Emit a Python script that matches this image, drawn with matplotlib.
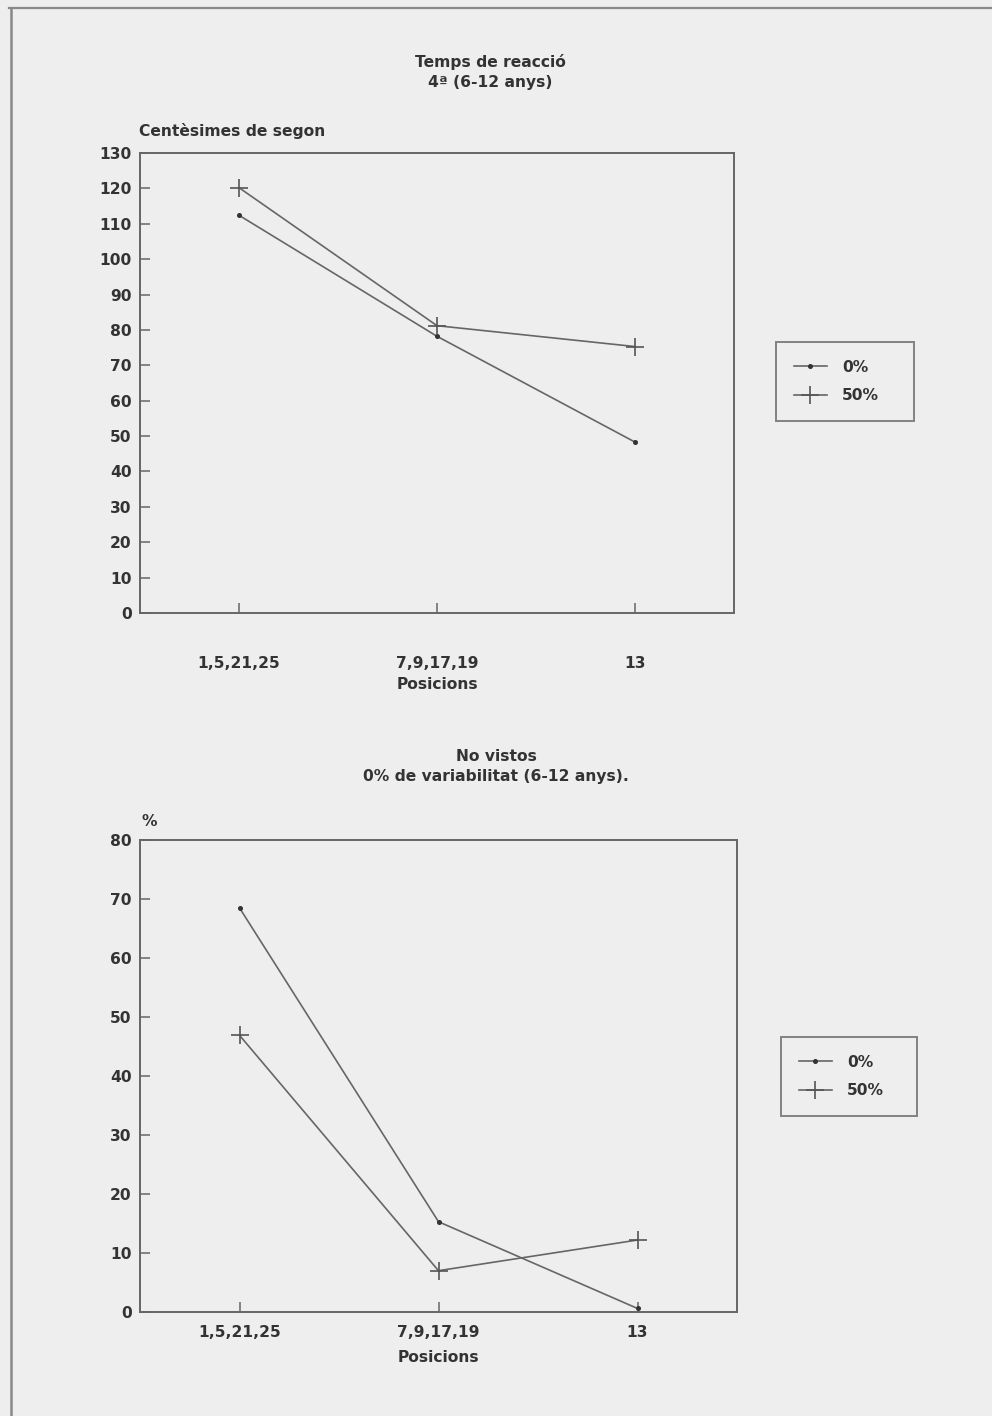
import numpy as np
import matplotlib
matplotlib.use("Agg")
import matplotlib.pyplot as plt
from matplotlib.lines import Line2D

# positions on the x axis
positions = ['1,5,21,25', '7,9,17,19', '13']
series_labels = ['0%', '50%']

# Temps de reaccio (centesimes de segon)
rt_0 = [112.4, 78.2, 48.3]
rt_50 = [120.2, 81.2, 75.3]

# No vistos (%)
nv_0 = [68.5, 15.3, 0.6]
nv_50 = [46.9, 7.0, 12.2]

INK = '#333333'
LINE = '#666666'
BG = '#eeeeee'
FS = 11.2

plt.rcParams['font.family'] = ['DejaVu Sans']
plt.rcParams['font.weight'] = 'bold'

fig = plt.figure(figsize=(9.92, 14.16), dpi=100)
fig.set_facecolor(BG)

W, H = 992.0, 1416.0


def fx(px):
    return px / W


def fy(py):
    return 1 - py / H


def style_axes(ax, ymax, ystep, xpad, labelpad):
    ax.set_facecolor('none')
    x = np.arange(len(positions))
    ax.set_xlim(-0.5, 2.5)
    ax.set_ylim(0, ymax)
    ax.set_xticks(x)
    ax.set_xticklabels(positions)
    ax.set_yticks(np.arange(0, ymax + 1, ystep))
    ax.tick_params(direction='in', length=7, width=1.1, colors=LINE,
                   labelcolor=INK, labelsize=FS, pad=6)
    ax.tick_params(axis='x', pad=xpad)
    for sp in ax.spines.values():
        sp.set_color(LINE)
        sp.set_linewidth(1.4)
    ax.set_xlabel('Posicions', fontsize=FS, fontweight='bold', color=INK,
                  labelpad=labelpad)


def plot_series(ax, y0, y50):
    x = np.arange(len(positions))
    ax.plot(x, y0, color=LINE, lw=1.2, marker='o', ms=2.6, mfc='#333333',
            mec='#333333', label=series_labels[0])
    ax.plot(x, y50, color=LINE, lw=1.2, marker='+', ms=13, mew=1.2,
            mec='#555555', label=series_labels[1])


def add_legend(ax, left, top, right):
    leg = ax.legend(loc='upper left',
                    bbox_to_anchor=(fx(left), fy(top) - 0.01, fx(right) - fx(left), 0.01),
                    bbox_transform=fig.transFigure, mode='expand',
                    frameon=True, fancybox=False,
                    fontsize=FS, handlelength=2.1, handletextpad=1.0,
                    borderpad=1.15, labelspacing=0.85, numpoints=1,
                    borderaxespad=0)
    fr = leg.get_frame()
    fr.set_edgecolor(LINE)
    fr.set_linewidth(1.4)
    fr.set_facecolor('none')
    for t in leg.get_texts():
        t.set_color(INK)
        t.set_fontweight('bold')


# top chart
ax1 = fig.add_axes([fx(140), fy(613), fx(734) - fx(140), fy(153) - fy(613)])
plot_series(ax1, rt_0, rt_50)
style_axes(ax1, 130, 10, xpad=31, labelpad=4)
add_legend(ax1, 776, 342, 914)
fig.text(fx(490), fy(62), 'Temps de reacció', ha='center', va='center',
         fontsize=FS, fontweight='bold', color=INK)
fig.text(fx(490), fy(83), '4ª (6-12 anys)', ha='center', va='center',
         fontsize=FS, fontweight='bold', color=INK)
fig.text(fx(139), fy(131), 'Centèsimes de segon', ha='left', va='center',
         fontsize=FS, fontweight='bold', color=INK)

# bottom chart
ax2 = fig.add_axes([fx(140), fy(1312), fx(737) - fx(140), fy(840) - fy(1312)])
plot_series(ax2, nv_0, nv_50)
style_axes(ax2, 80, 10, xpad=9.5, labelpad=7)
add_legend(ax2, 781, 1037, 917)
fig.text(fx(496), fy(757), 'No vistos', ha='center', va='center',
         fontsize=FS, fontweight='bold', color=INK)
fig.text(fx(496), fy(777), '0% de variabilitat (6-12 anys).', ha='center', va='center',
         fontsize=FS, fontweight='bold', color=INK)
fig.text(fx(141), fy(822), '%', ha='left', va='center',
         fontsize=FS, fontweight='bold', color=INK)

# page border of the scan
fig.add_artist(Line2D([fx(9), 1.0], [fy(8), fy(8)], color='#888888', lw=1.6))
fig.add_artist(Line2D([fx(11), fx(11)], [fy(8), 0.0], color='#888888', lw=1.8))

fig.savefig('out.png', dpi=100, facecolor=BG)
